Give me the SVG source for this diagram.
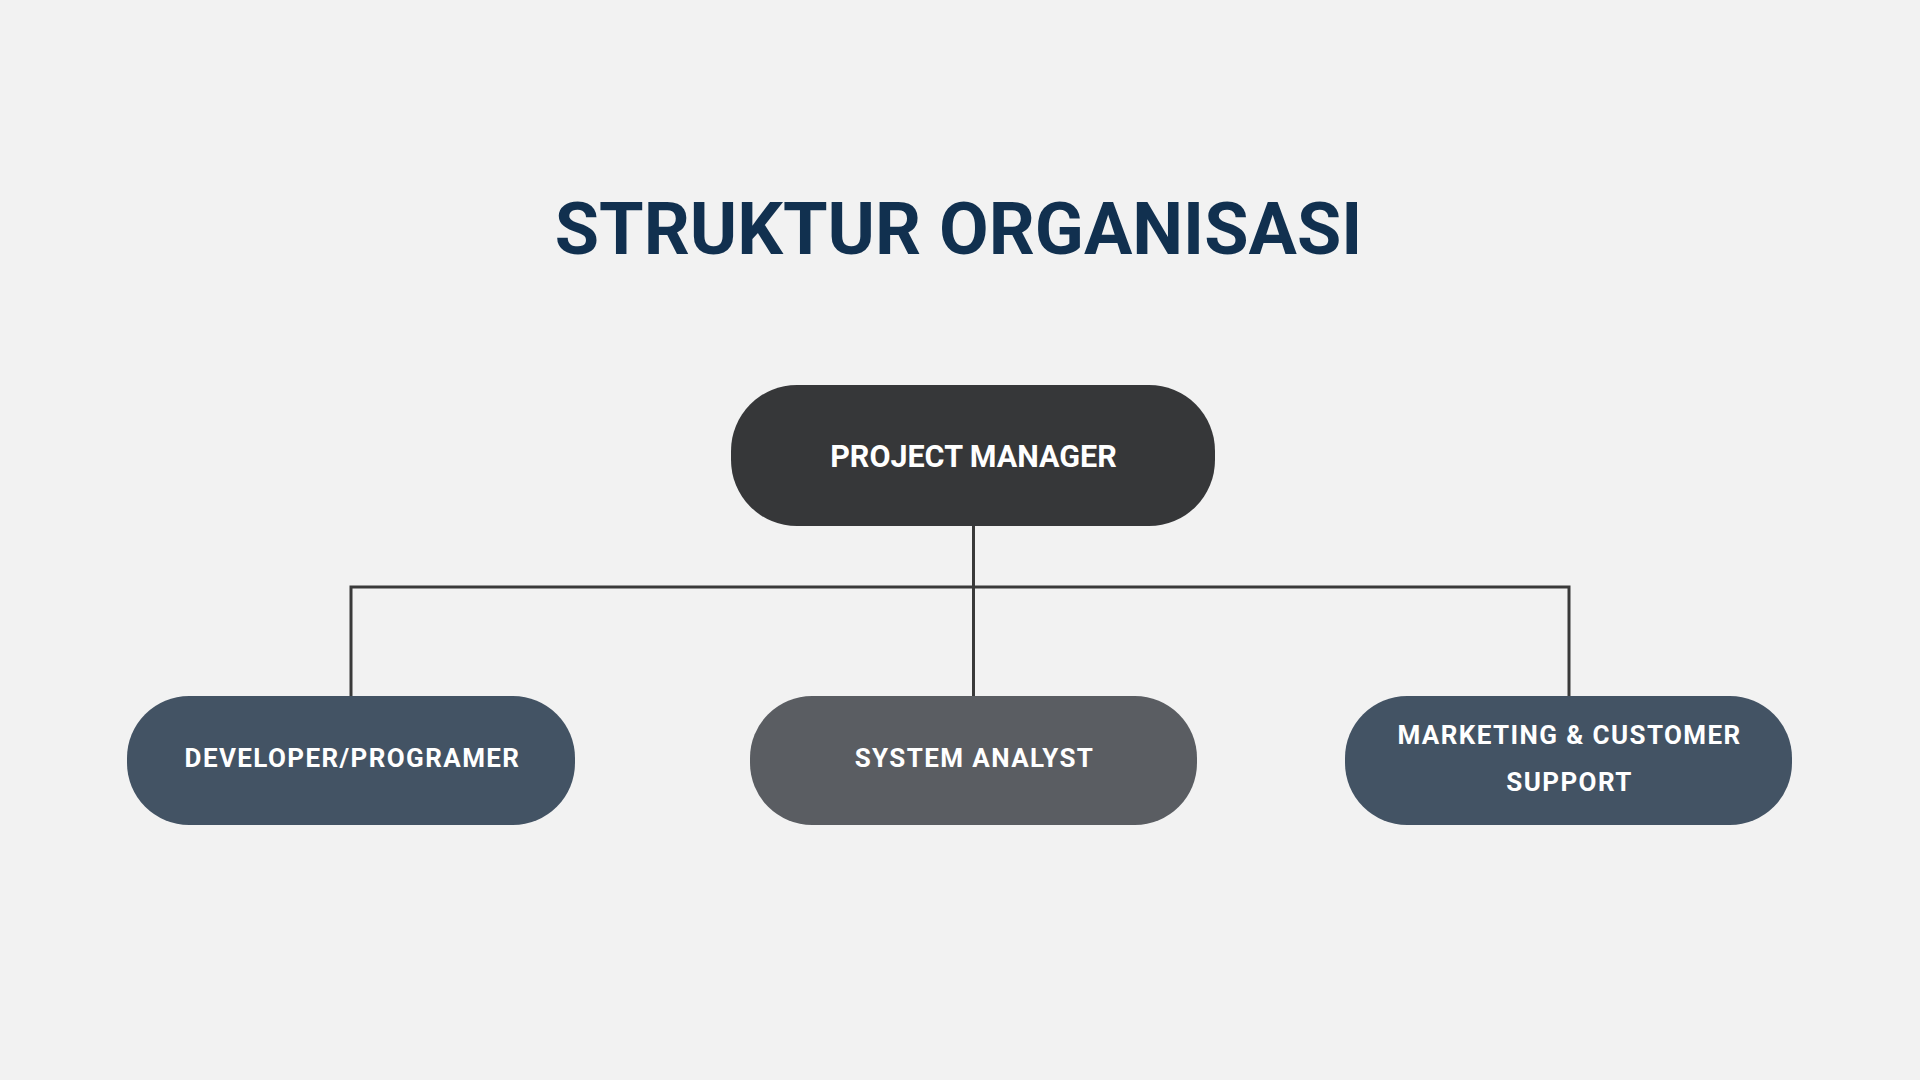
<svg xmlns="http://www.w3.org/2000/svg" width="1920" height="1080" viewBox="0 0 1920 1080">
<style>
.t{font-family:Roboto,"Liberation Sans",sans-serif;font-weight:700;fill:#ffffff;text-anchor:middle}
.sub{font-size:26px;letter-spacing:1.4px}
.conn{fill:none;stroke:#3a3a3a;stroke-width:3}
</style>
<rect width="1920" height="1080" fill="#f2f2f2"/>
<text x="958.5" y="254" font-family="Roboto,'Liberation Sans',sans-serif" font-weight="700" font-size="72" fill="#11304f" text-anchor="middle">STRUKTUR ORGANISASI</text>
<g id="connectors">
<path class="conn" d="M973.5 526 V587"/>
<path class="conn" d="M351 696 V587 H1569 V696"/>
<path class="conn" d="M973.5 587 V696"/>
</g>
<g id="project-manager">
<rect x="731" y="385" width="484" height="141" rx="66" ry="66" fill="#363739"/>
<text class="t" x="973.5" y="466.5" font-size="30.5">PROJECT MANAGER</text>
</g>
<g id="developer">
<rect x="127" y="696" width="448" height="129" rx="62" ry="62" fill="#435364"/>
<text class="t sub" x="352.5" y="767">DEVELOPER/PROGRAMER</text>
</g>
<g id="system-analyst">
<rect x="750" y="696" width="447" height="129" rx="62" ry="62" fill="#5a5d62"/>
<text class="t sub" x="974.5" y="767">SYSTEM ANALYST</text>
</g>
<g id="marketing">
<rect x="1345" y="696" width="447" height="129" rx="62" ry="62" fill="#435364"/>
<text class="t sub" x="1569.5" y="744">MARKETING &amp; CUSTOMER</text>
<text class="t sub" x="1569.5" y="791">SUPPORT</text>
</g>
</svg>
